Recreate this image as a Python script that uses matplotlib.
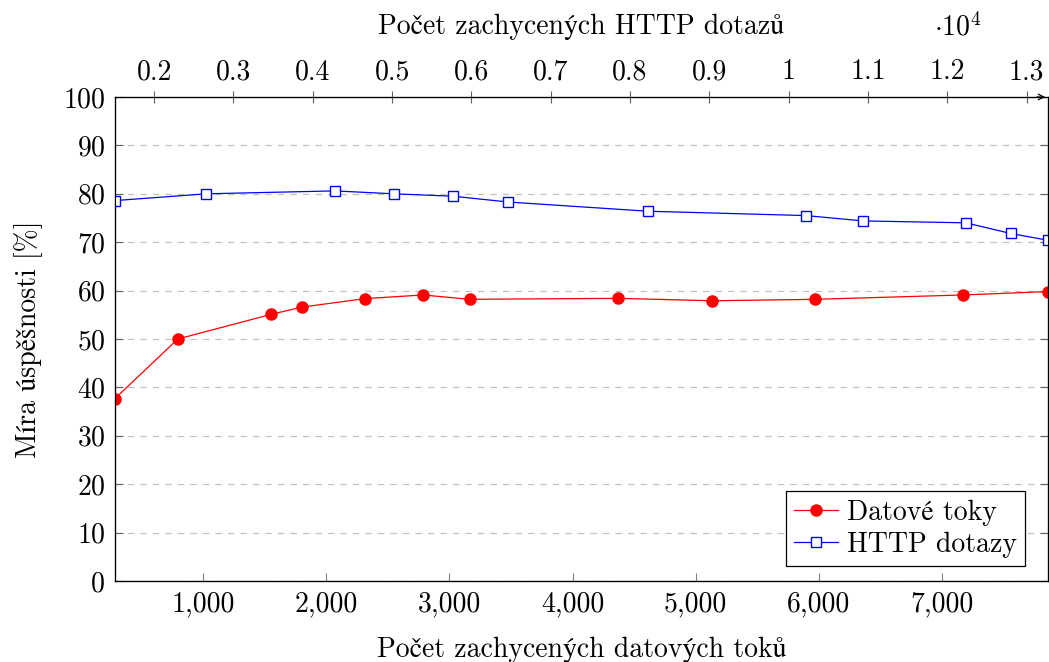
import matplotlib
matplotlib.use('Agg')
import matplotlib.pyplot as plt
from matplotlib.ticker import FuncFormatter, FixedLocator

# computer modern for ascii, STIX for the czech accented letters
plt.rcParams['font.family'] = ['cmr10', 'STIXGeneral', 'DejaVu Serif']
plt.rcParams['mathtext.fontset'] = 'cm'
plt.rcParams['axes.formatter.use_mathtext'] = True

# Datove toky (bottom axis)
flows_x = [285, 795, 1554, 1805, 2318, 2786, 3164, 4371, 5136, 5973, 7172, 7861]
flows_y = [37.7, 50.0, 55.1, 56.6, 58.35, 59.1, 58.2, 58.4, 57.9, 58.2, 59.1, 59.8]

# HTTP dotazy (top axis)
http_x = [1506, 2659, 4277, 5019, 5770, 6465, 8226, 10219, 10936, 12235, 12801, 13270]
http_y = [78.6, 80.0, 80.6, 80.0, 79.5, 78.3, 76.4, 75.5, 74.4, 74.0, 71.8, 70.4]

bottom_ticks = [1000, 2000, 3000, 4000, 5000, 6000, 7000]
top_ticks = [2000, 3000, 4000, 5000, 6000, 7000, 8000, 9000, 10000, 11000, 12000, 13000]
y_ticks = list(range(0, 101, 10))

fs = 20
fig = plt.figure(figsize=(10.49, 6.62), dpi=100)
ax = fig.add_axes([115 / 1049, 81 / 662, 933 / 1049, 484 / 662])

ax.set_xlim(min(flows_x), max(flows_x))
ax.set_ylim(0, 100)
ax.set_yticks(y_ticks)
ax.set_xticks(bottom_ticks)
ax.xaxis.set_major_formatter(FuncFormatter(lambda v, p: f'{int(v):,}'))
ax.yaxis.grid(True, linestyle=(0, (5, 5)), color='#c0c0c0', linewidth=0.9)
ax.set_axisbelow(True)
ax.tick_params(axis='x', direction='in', length=6, color='#808080', labelsize=fs, pad=7)
ax.tick_params(axis='y', direction='in', length=6, color='#606060', labelsize=fs,
               right=True, pad=7)
for s in ax.spines.values():
    s.set_linewidth(0.9)

l1, = ax.plot(flows_x, flows_y, color='red', marker='o', markersize=8, linewidth=0.9,
              label='Datové toky')
ax.set_xlabel('Počet zachycených datových toků', fontsize=fs, labelpad=14)
ax.set_ylabel('Míra úspěšnosti [%]', fontsize=fs, labelpad=14)

ax2 = ax.twiny()
ax2.set_xlim(min(http_x), max(http_x))
ax2.xaxis.set_major_locator(FixedLocator(top_ticks))
ax2.xaxis.set_major_formatter(FuncFormatter(lambda v, p: f'{v / 1e4:g}'))
ax2.tick_params(axis='x', direction='inout', length=9, color='#606060', labelsize=fs, pad=4)
l2, = ax2.plot(http_x, http_y, color='blue', marker='s', markersize=7.5, linewidth=0.9,
               markerfacecolor='white', markeredgewidth=1.0, label='HTTP dotazy')
ax2.set_xlabel('Počet zachycených HTTP dotazů', fontsize=fs, labelpad=18)
fig.text(958 / 1049, 1 - 27 / 662, r'$\cdot 10^{4}$', fontsize=fs,
         ha='center', va='center')
ax2.annotate('', xy=(1.0, 1.0), xytext=(0.985, 1.0), xycoords='axes fraction',
             arrowprops=dict(arrowstyle='->', color='black', lw=0.9))

leg = ax2.legend(handles=[l1, l2], loc='lower right', fontsize=fs, fancybox=False,
                 bbox_to_anchor=(1 - 23 / 933, 15 / 484), borderaxespad=0,
                 edgecolor='black', framealpha=1, handlelength=1.6,
                 borderpad=0.3, labelspacing=0.2, handletextpad=0.3)
leg.get_frame().set_linewidth(0.9)

fig.savefig('out.png', dpi=100)
